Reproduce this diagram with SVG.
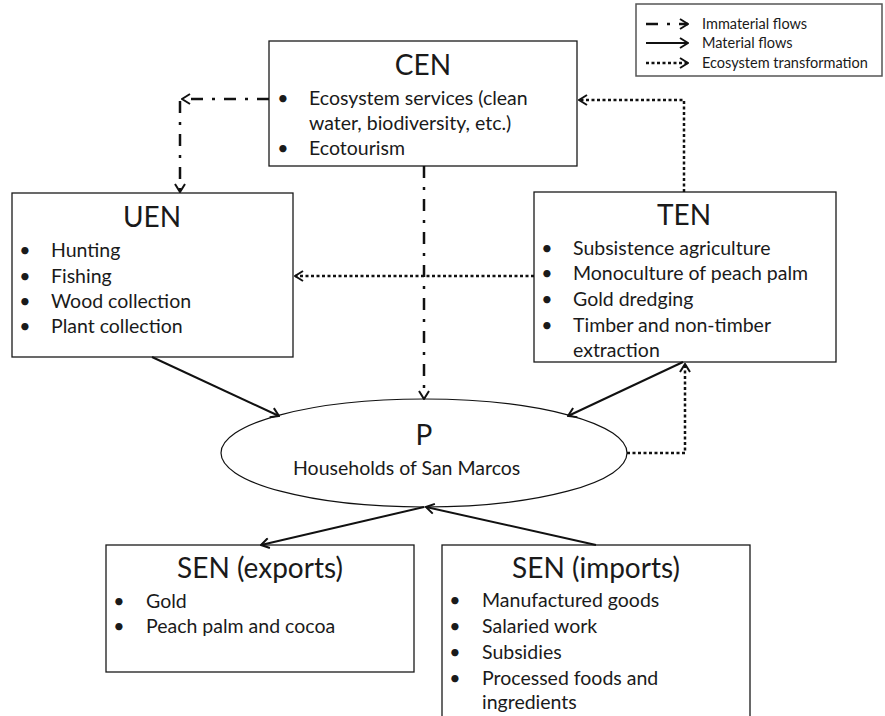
<svg xmlns="http://www.w3.org/2000/svg" width="885" height="716" viewBox="0 0 885 716">
<style>
text{font-family:Lato,"Liberation Sans",sans-serif;fill:#1a1a1a}
.t{font-size:28px;text-anchor:middle}
.b{font-size:19.5px}
.bl{font-size:19.5px;text-anchor:middle}
.lg{font-size:14.5px}
.box{fill:#fff;stroke:#1a1a1a;stroke-width:1.3}
.im{fill:none;stroke:#111;stroke-width:2.5;stroke-dasharray:12 9 3 9}
.ma{fill:none;stroke:#111;stroke-width:2}
.ec{fill:none;stroke:#111;stroke-width:2.5;stroke-dasharray:3 2.5}
</style>
<defs>
<marker id="ah" viewBox="0 0 10 12" refX="9" refY="6" markerWidth="10" markerHeight="12" markerUnits="userSpaceOnUse" orient="auto">
<path d="M1,1 L9,6 L1,11" fill="none" stroke="#111" stroke-width="2"/>
</marker>
</defs>
<g id="legend">
<rect x="636" y="4" width="246" height="72" fill="#fff" stroke="#555" stroke-width="1.5"/>
<line x1="646" y1="24" x2="688" y2="24" class="im" stroke-dasharray="8 4 2 4" marker-end="url(#ah)"/>
<line x1="646" y1="43" x2="688" y2="43" class="ma" marker-end="url(#ah)"/>
<line x1="646" y1="63" x2="688" y2="63" class="ec" marker-end="url(#ah)"/>
<text class="lg" x="702" y="29">Immaterial flows</text>
<text class="lg" x="702" y="48">Material flows</text>
<text class="lg" x="702" y="68">Ecosystem transformation</text>
</g>
<g id="CEN">
<rect class="box" x="269" y="41" width="308" height="125"/>
<text class="t" x="423" y="75">CEN</text>
<text class="bl" x="283" y="105">•</text><text class="b" x="309" y="105">Ecosystem services (clean</text>
<text class="b" x="309" y="130">water, biodiversity, etc.)</text>
<text class="bl" x="283" y="155">•</text><text class="b" x="309" y="155">Ecotourism</text>
</g>
<g id="UEN">
<rect class="box" x="12" y="193" width="281" height="164"/>
<text class="t" x="152" y="227">UEN</text>
<text class="bl" x="25" y="257">•</text><text class="b" x="51" y="257">Hunting</text>
<text class="bl" x="25" y="283">•</text><text class="b" x="51" y="283">Fishing</text>
<text class="bl" x="25" y="308">•</text><text class="b" x="51" y="308">Wood collection</text>
<text class="bl" x="25" y="333">•</text><text class="b" x="51" y="333">Plant collection</text>
</g>
<g id="TEN">
<rect class="box" x="534" y="192" width="302" height="170"/>
<text class="t" x="684" y="225">TEN</text>
<text class="bl" x="547" y="255">•</text><text class="b" x="573" y="255">Subsistence agriculture</text>
<text class="bl" x="547" y="280">•</text><text class="b" x="573" y="280">Monoculture of peach palm</text>
<text class="bl" x="547" y="306">•</text><text class="b" x="573" y="306">Gold dredging</text>
<text class="bl" x="547" y="332">•</text><text class="b" x="573" y="332">Timber and non-timber</text>
<text class="b" x="573" y="357">extraction</text>
</g>
<g id="P">
<ellipse cx="424" cy="453" rx="203" ry="54" fill="#fff" stroke="#111" stroke-width="1.2"/>
<text class="t" x="424" y="445">P</text>
<text class="b" x="293" y="475">Households of San Marcos</text>
</g>
<g id="SEN-exports">
<rect class="box" x="106" y="545" width="308" height="127"/>
<text class="t" x="260" y="578">SEN (exports)</text>
<text class="bl" x="119" y="608">•</text><text class="b" x="146" y="608">Gold</text>
<text class="bl" x="119" y="633">•</text><text class="b" x="146" y="633">Peach palm and cocoa</text>
</g>
<g id="SEN-imports">
<rect class="box" x="442" y="545" width="308" height="180"/>
<text class="t" x="596" y="578">SEN (imports)</text>
<text class="bl" x="455" y="607">•</text><text class="b" x="482" y="607">Manufactured goods</text>
<text class="bl" x="455" y="633">•</text><text class="b" x="482" y="633">Salaried work</text>
<text class="bl" x="455" y="659">•</text><text class="b" x="482" y="659">Subsidies</text>
<text class="bl" x="455" y="685">•</text><text class="b" x="482" y="685">Processed foods and</text>
<text class="b" x="482" y="709">ingredients</text>
</g>
<g id="connectors">
<line class="im" x1="269" y1="99" x2="182" y2="99" marker-end="url(#ah)"/>
<line class="im" x1="180" y1="101" x2="180" y2="192" marker-end="url(#ah)"/>
<line class="im" x1="424" y1="166" x2="424" y2="399" marker-end="url(#ah)"/>
<polyline class="ec" points="684,192 684,100 579,100" marker-end="url(#ah)"/>
<line class="ec" x1="534" y1="276" x2="295" y2="276" marker-end="url(#ah)"/>
<polyline class="ec" points="627,453 685,453 685,364" marker-end="url(#ah)"/>
<line class="ma" x1="152" y1="357" x2="279" y2="416" stroke-width="1.6" marker-end="url(#ah)"/>
<line class="ma" x1="683" y1="362" x2="568" y2="416" stroke-width="2.8" marker-end="url(#ah)"/>
<line class="ma" x1="424" y1="507" x2="261" y2="545" marker-end="url(#ah)"/>
<line class="ma" x1="596" y1="545" x2="426" y2="507" marker-end="url(#ah)"/>
</g>
</svg>
